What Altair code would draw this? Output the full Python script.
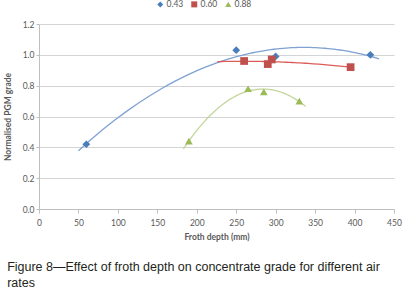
import altair as alt
import pandas as pd

series_names = ["0.43", "0.60", "0.88"]
depth_043 = [60, 250, 300, 420]
grade_043 = [0.42, 1.03, 0.99, 1.00]
depth_060 = [260, 290, 295, 395]
grade_060 = [0.96, 0.94, 0.97, 0.92]
depth_088 = [190, 265, 285, 330]
grade_088 = [0.44, 0.78, 0.76, 0.70]

x_ticks = [0, 50, 100, 150, 200, 250, 300, 350, 400, 450]
y_ticks = [0.0, 0.2, 0.4, 0.6, 0.8, 1.0, 1.2]

marker_colors = ["#4a7ebb", "#c0504d", "#9bbb59"]
line_colors = ["#7fa2d3", "#dc5b57", "#c3d69b"]
shapes = ["diamond", "square", "triangle-up"]
extents = [[50, 431], [226, 395], [183, 338]]

rows = []
for name, xs, ys in zip(series_names, [depth_043, depth_060, depth_088], [grade_043, grade_060, grade_088]):
    for xv, yv in zip(xs, ys):
        rows.append({"series": name, "depth": xv, "grade": yv})
df = pd.DataFrame(rows)

xscale = alt.Scale(domain=[0, 450], nice=False)
yscale = alt.Scale(domain=[0, 1.2], nice=False)

x_enc = alt.X(
    "depth:Q",
    scale=xscale,
    title="Froth depth (mm)",
    axis=alt.Axis(values=x_ticks, tickSize=4, labelPadding=5, titlePadding=6,
                  labelOverlap=False, labelFlush=False, grid=False),
)
y_enc = alt.Y(
    "grade:Q",
    scale=yscale,
    title="Normalised PGM grade",
    axis=alt.Axis(values=y_ticks, format=".1f", tickSize=3, labelPadding=2, titlePadding=10,
                  labelOverlap=False, labelFlush=False, grid=True),
)

base = alt.Chart(df)

lines = []
for name, col, ext in zip(series_names, line_colors, extents):
    lines.append(
        base.transform_filter(alt.datum.series == name)
        .transform_regression("depth", "grade", method="poly", order=2, extent=ext)
        .mark_line(color=col, strokeWidth=1.3)
        .encode(x=x_enc, y=y_enc)
    )

points = base.mark_point(filled=True, opacity=1, size=60).encode(
    x=x_enc,
    y=y_enc,
    color=alt.Color(
        "series:N",
        scale=alt.Scale(domain=series_names, range=marker_colors),
        legend=alt.Legend(
            title=None,
            orient="none",
            direction="horizontal",
            legendX=117,
            legendY=-24,
            symbolSize=36,
            labelFontSize=8.5,
            labelOffset=2,
            columnPadding=6,
            symbolStrokeWidth=0,
        ),
    ),
    shape=alt.Shape("series:N", scale=alt.Scale(domain=series_names, range=shapes)),
)

chart = (
    alt.layer(*lines, points)
    .properties(
        width=355,
        height=185,
        autosize=alt.AutoSizeParams(type="none"),
        padding={"left": 39, "top": 24, "right": 10, "bottom": 90},
        title=alt.TitleParams(
            text=["Figure 8\u2014Effect of froth depth on concentrate grade for different air", "rates"],
            orient="bottom",
            anchor="start",
            frame="bounds",
            font="Liberation Sans",
            fontSize=12.5,
            fontWeight="normal",
            color="#231f20",
            lineHeight=16,
            offset=20,
            dx=4,
        ),
    )
    .configure(font="Lato")
    .configure_view(stroke=None)
    .configure_axis(
        labelFont="Lato",
        labelFontSize=8.5,
        labelColor="#595959",
        titleFont="Lato",
        titleFontSize=8.5,
        titleFontWeight="bold",
        titleColor="#595959",
        gridColor="#d4d4d4",
        gridWidth=1,
        domainColor="#bfbfbf",
        tickColor="#bfbfbf",
    )
    .configure_legend(labelFont="Lato", labelColor="#595959")
)

chart.save("out.html", embed_options={"renderer": "svg", "actions": False})
